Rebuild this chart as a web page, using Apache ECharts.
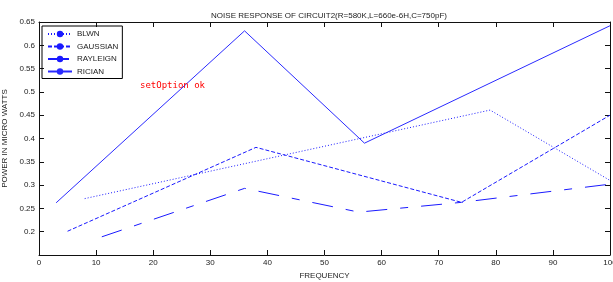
<!DOCTYPE html>
<html>
<head>
<meta charset="utf-8">
<script src="https://cdn.jsdelivr.net/npm/echarts@6/dist/echarts.min.js"></script>
<style>
  html, body { margin: 0; padding: 0; background: #fff; }
  #main { width: 613px; height: 282px; }
  #dbg { position: absolute; left: 140px; top: 80px; width: 460px; font: 9px monospace; color: red; white-space: pre-wrap; }
</style>
</head>
<body>
<div id="main"></div>
<div id="dbg"></div>
<script>
var dbg = document.getElementById('dbg');
window.onerror = function (m) { dbg.textContent += 'onerror: ' + m + '\n'; };
// 数据
var blwnX = [8, 79, 100];
var blwnY = [0.271, 0.461, 0.31];
var gaussX = [5, 38, 74, 100];
var gaussY = [0.201, 0.381, 0.263, 0.45];
var rayX = [11, 36, 56, 74, 100];
var rayY = [0.189, 0.293, 0.242, 0.263, 0.302];
var ricX = [3, 36, 57, 100];
var ricY = [0.262, 0.631, 0.39, 0.642];
var hiddenYTicks = [0.15];

function pairs(xs, ys) {
    var out = [];
    for (var i = 0; i < xs.length; i++) out.push([xs[i], ys[i]]);
    return out;
}

var myChart = echarts.init(document.getElementById('main'), null, { renderer: 'canvas' });
var font = 'Liberation Sans, Arial, sans-serif';
var txt = '#222';

function mkLine(name, xs, ys, type, color) {
    return {
        name: name, type: 'line', data: pairs(xs, ys), symbol: 'none',
        lineStyle: { color: color, width: 1, type: type }, itemStyle: { color: color }
    };
}

function frameAxis(pos, min, max, interval, extra) {
    var ax = {
        type: 'value', show: true, position: pos, min: min, max: max, interval: interval,
        axisLine: { show: true, onZero: false, lineStyle: { color: '#111', width: 1 } },
        axisTick: { show: true, inside: true, length: 5, lineStyle: { color: '#111', width: 1 } },
        axisLabel: { show: false },
        splitLine: { show: false }
    };
    for (var k in extra) ax[k] = extra[k];
    return ax;
}

try {
myChart.setOption({
    animation: false,
    title: {
        text: 'NOISE RESPONSE OF CIRCUIT2(R=580K,L=660e-6H,C=750pF)',
        left: 324, top: 7, textAlign: 'center',
        textStyle: { fontFamily: font, fontSize: 8, fontWeight: 'normal', color: txt }
    },
    legend: {
        orient: 'vertical', left: 42, top: 26,
        borderColor: '#000', borderWidth: 1,
        padding: [4, 4, 3, 5],
        itemWidth: 24, itemHeight: 8, itemGap: 4.5,
        textStyle: { fontFamily: font, fontSize: 8, color: txt },
        data: ['BLWN', 'GAUSSIAN', 'RAYLEIGN', 'RICIAN']
    },
    grid: { left: 39, right: 3, top: 22, bottom: 27, outerBoundsMode: 'none' },
    xAxis: [
        frameAxis('bottom', 0, 100, 10, {
            name: 'FREQUENCY', nameLocation: 'middle', nameGap: 14,
            nameTextStyle: { fontFamily: font, fontSize: 8, color: txt },
            axisLabel: { show: true, fontFamily: font, fontSize: 8, color: txt, margin: 4 }
        }),
        frameAxis('top', 0, 100, 10, {})
    ],
    yAxis: [
        frameAxis('left', 0.15, 0.65, 0.05, {
            name: 'POWER IN MICRO WATTS', nameLocation: 'middle', nameGap: 24,
            nameTextStyle: { fontFamily: font, fontSize: 8, color: txt },
            axisLabel: {
                show: true, fontFamily: font, fontSize: 8, color: txt, margin: 4,
                formatter: function (v) {
                    var r = Math.round(v * 100) / 100;
                    return hiddenYTicks.indexOf(r) >= 0 ? '' : String(r);
                }
            }
        }),
        frameAxis('right', 0.15, 0.65, 0.05, {})
    ],
    series: [
        mkLine('BLWN', blwnX, blwnY, [1, 2], '#1a1aff'),
        mkLine('GAUSSIAN', gaussX, gaussY, [4, 2], '#1a1aff'),
        mkLine('RAYLEIGN', rayX, rayY, [21, 13, 8, 13], '#1a1aff'),
        mkLine('RICIAN', ricX, ricY, 'solid', '#2a2aff'),
        { type: 'line', xAxisIndex: 1, yAxisIndex: 1, data: [[0, 0.15]], symbol: 'none' }
    ]
});
dbg.textContent += 'setOption ok\n';
} catch (e) {
    dbg.textContent += 'ERR: ' + e.message + '\n' + (e.stack || '').slice(0, 500);
}
</script>
</body>
</html>
